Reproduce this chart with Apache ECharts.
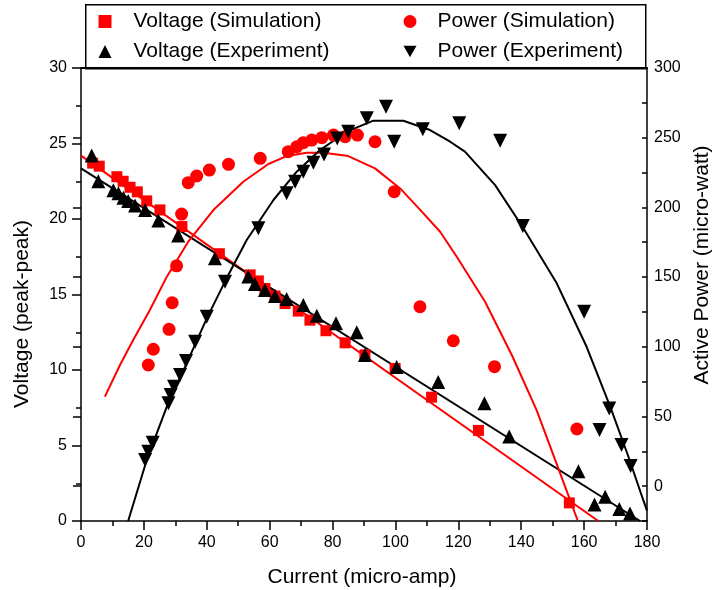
<!DOCTYPE html>
<html>
<head>
<meta charset="utf-8">
<title>Voltage and power vs current</title>
<script src="https://cdn.jsdelivr.net/npm/echarts@6/dist/echarts.min.js"></script>
<style>
  html, body { margin: 0; padding: 0; background: #fff; }
  #chart { width: 714px; height: 590px; }
</style>
</head>
<body>
<div id="chart"></div>
<script>
// ---- measured / simulated points ----
const voltSimI = [3.7, 5.8, 11.4, 13.4, 15.6, 17.9, 20.9, 25.1, 32.1, 44.0, 53.8, 56.4, 58.5, 61.7, 64.9, 69.1, 72.8, 77.9, 84.0, 90.3, 99.9, 111.5, 126.4, 155.3];
const voltSimV = [23.7, 23.5, 22.8, 22.5, 22.1, 21.8, 21.2, 20.6, 19.5, 17.7, 16.3, 15.9, 15.4, 14.9, 14.4, 13.9, 13.3, 12.6, 11.8, 11.0, 10.1, 8.2, 6.0, 1.2];

const voltExpI = [3.4, 5.5, 10.3, 11.9, 13.5, 15.0, 17.2, 20.4, 24.6, 30.9, 42.6, 53.2, 55.3, 58.5, 61.7, 65.4, 70.7, 75.0, 81.1, 87.7, 90.3, 100.4, 113.6, 128.3, 136.2, 158.2, 163.3, 166.7, 171.2, 174.6];
const voltExpV = [24.2, 22.5, 21.9, 21.7, 21.4, 21.2, 20.9, 20.6, 19.9, 18.9, 17.4, 16.2, 15.7, 15.3, 14.9, 14.7, 14.3, 13.6, 13.1, 12.5, 11.0, 10.2, 9.2, 7.8, 5.6, 3.3, 1.1, 1.6, 0.8, 0.5];

const powSimI = [21.4, 23.0, 28.0, 29.0, 30.4, 32.0, 34.1, 36.8, 40.8, 46.9, 57.0, 65.9, 68.6, 70.7, 73.4, 76.6, 80.3, 84.0, 87.9, 93.5, 99.6, 107.8, 118.4, 131.5, 157.7];
const powSimP = [86.9, 98.2, 112.5, 131.6, 158.1, 195.2, 217.7, 222.5, 226.8, 230.9, 235.2, 240.0, 243.5, 246.4, 248.3, 250.0, 251.9, 250.7, 251.9, 247.1, 211.2, 128.7, 104.3, 85.7, 41.0];

const powExpI = [20.4, 21.4, 22.8, 27.8, 28.5, 29.6, 31.5, 33.4, 36.3, 40.0, 45.8, 56.4, 65.4, 68.1, 70.7, 73.9, 77.3, 81.5, 85.0, 90.9, 97.0, 99.6, 108.7, 120.3, 133.3, 140.5, 160.0, 164.9, 168.0, 171.9, 174.8];
const powExpP = [18.8, 24.7, 31.2, 59.4, 65.4, 71.3, 79.7, 89.8, 103.6, 121.6, 146.7, 185.0, 210.1, 218.4, 225.6, 232.0, 238.0, 249.5, 254.3, 263.9, 272.2, 247.1, 256.0, 260.3, 247.8, 186.6, 125.1, 40.3, 55.8, 29.5, 14.5];

// ---- fitted curves ----
const voltSimFitI = [0, 164.5];
const voltSimFitV = [24.2, 0];
const voltExpFitI = [0, 177.8];
const voltExpFitV = [23.35, 0];

const powSimFitI = [7.6, 12.4, 16.6, 21.9, 27.3, 34.1, 42.1, 51.6, 59.6, 65.4, 71.8, 77.1, 85.0, 93.5, 101.5, 108.9, 114.2, 119.5, 128.5, 137.0, 144.9, 151.8, 157.9];
const powSimFitP = [64.2, 86.9, 104.8, 126.4, 150.3, 175.4, 198.1, 218.4, 231.1, 236.8, 239.2, 239.2, 236.8, 228.0, 213.6, 195.7, 182.5, 164.6, 132.3, 94.1, 54.6, 12.8, -24.3];

const powExpFitI = [15.0, 20.9, 27.3, 33.6, 40.0, 46.3, 52.7, 61.2, 68.6, 76.0, 84.5, 93.0, 102.5, 111.0, 117.4, 122.1, 131.7, 140.7, 151.3, 160.8, 168.3, 174.1, 178.8, 180.0];
const powExpFitP = [-25.0, 18.8, 57.0, 88.1, 120.4, 149.1, 176.6, 205.3, 225.6, 241.1, 254.3, 262.2, 262.2, 255.5, 247.1, 240.0, 216.0, 185.0, 145.5, 100.0, 57.0, 21.1, -9.9, -17.6];

// ---- axis ticks ----
const powerTickLabels = [0, 50, 100, 150, 200, 250, 300];

const FONT = '"Liberation Sans", Arial, sans-serif';
const RED = '#ff0000';
const BLACK = '#000000';
// downward-pointing triangle used as the legend icon of the experimental power
const DOWN_TRIANGLE = 'path://M0,0 L10,0 L5,9 Z';

const pair = (xs, ys) => xs.map((x, i) => [x, ys[i]]);

const chart = echarts.init(document.getElementById('chart'), null, { renderer: 'canvas' });

const axisLine = { show: true, onZero: false, lineStyle: { color: BLACK, width: 1.5 } };

function fitLine(name, xs, ys, color, yAxisIndex) {
  return {
    name, type: 'line', yAxisIndex, data: pair(xs, ys),
    symbol: 'none', silent: true, z: 2,
    lineStyle: { color, width: 2 }
  };
}

function points(name, xs, ys, symbol, size, color, yAxisIndex, rotate) {
  return {
    name, type: 'scatter', yAxisIndex, data: pair(xs, ys),
    symbol, symbolSize: size, symbolRotate: rotate || 0, z: 3,
    itemStyle: { color, opacity: 1 }
  };
}

const legendText = { fontSize: 21, fontFamily: FONT, color: BLACK, lineHeight: 17 };

chart.setOption({
  animation: false,
  backgroundColor: '#fff',
  grid: { left: 81, right: 67, top: 68, bottom: 69 },
  legend: [
    {
      data: [
        { name: 'Voltage (Simulation)' },
        { name: 'Voltage (Experiment)' }
      ],
      orient: 'vertical', left: 93.5, top: 6,
      itemWidth: 13, itemHeight: 13, itemGap: 9,
      textStyle: Object.assign({ padding: [0, 0, 0, 17] }, legendText)
    },
    {
      data: [
        { name: 'Power (Simulation)' },
        { name: 'Power (Experiment)', icon: DOWN_TRIANGLE }
      ],
      orient: 'vertical', left: 398.5, top: 6,
      itemWidth: 13, itemHeight: 13, itemGap: 9,
      textStyle: Object.assign({ padding: [0, 0, 0, 16] }, legendText)
    }
  ],
  xAxis: [
    {
      type: 'value', min: 0, max: 180, interval: 20, position: 'bottom',
      axisLine,
      axisTick: { show: true, inside: false, length: 9, lineStyle: { color: BLACK, width: 1.5 } },
      minorTick: { show: true, splitNumber: 2, length: 5, lineStyle: { color: BLACK, width: 1.5 } },
      axisLabel: { color: BLACK, fontSize: 16, fontFamily: FONT, margin: 14 },
      splitLine: { show: false }
    },
    {
      type: 'value', min: 0, max: 180, position: 'top',
      axisLine: { show: true, onZero: false, lineStyle: { color: BLACK, width: 2 } },
      axisTick: { show: false }, axisLabel: { show: false }, splitLine: { show: false }
    }
  ],
  yAxis: [
    {
      type: 'value', min: 0, max: 30, interval: 5, position: 'left',
      axisLine,
      axisTick: { show: true, inside: false, length: 9, lineStyle: { color: BLACK, width: 1.5 } },
      minorTick: { show: true, splitNumber: 2, length: 5, lineStyle: { color: BLACK, width: 1.5 } },
      axisLabel: { color: BLACK, fontSize: 16, fontFamily: FONT, margin: 14 },
      splitLine: { show: false }
    },
    {
      type: 'value', min: -25, max: 300, interval: 25, position: 'right',
      axisLine,
      axisTick: { show: true, inside: true, length: 5, lineStyle: { color: BLACK, width: 1.5 } },
      axisLabel: {
        color: BLACK, fontSize: 16, fontFamily: FONT, margin: 7,
        formatter: v => (v >= 0 && v % 50 === 0) ? String(v) : ''
      },
      splitLine: { show: false }
    },
    {
      type: 'value', min: -25, max: 300, position: 'right',
      axisLine: { show: false },
      axisTick: { show: true, inside: true, length: 8, customValues: powerTickLabels, lineStyle: { color: BLACK, width: 1.5 } },
      axisLabel: { show: false },
      splitLine: { show: false }
    }
  ],
  graphic: [
    {
      type: 'rect', left: 85, top: 4, z: 0, silent: true,
      shape: { width: 560, height: 64 },
      style: { fill: '#fff', stroke: BLACK, lineWidth: 1.5 }
    },
    {
      type: 'text', x: 22, y: 314, rotation: Math.PI / 2, silent: true,
      style: { text: 'Voltage (peak-peak)', fontSize: 21, fontFamily: FONT, fill: BLACK, align: 'center', verticalAlign: 'middle' }
    },
    {
      type: 'text', x: 702, y: 265, rotation: Math.PI / 2, silent: true,
      style: { text: 'Active Power (micro-watt)', fontSize: 21, fontFamily: FONT, fill: BLACK, align: 'center', verticalAlign: 'middle' }
    },
    {
      type: 'text', x: 362, y: 577, silent: true,
      style: { text: 'Current (micro-amp)', fontSize: 21, fontFamily: FONT, fill: BLACK, align: 'center', verticalAlign: 'middle' }
    }
  ],
  series: [
    fitLine('voltSimFit', voltSimFitI, voltSimFitV, RED, 0),
    fitLine('voltExpFit', voltExpFitI, voltExpFitV, BLACK, 0),
    fitLine('powSimFit', powSimFitI, powSimFitP, RED, 1),
    fitLine('powExpFit', powExpFitI, powExpFitP, BLACK, 1),
    points('Voltage (Simulation)', voltSimI, voltSimV, 'rect', 11, RED, 0),
    points('Voltage (Experiment)', voltExpI, voltExpV, 'triangle', 14, BLACK, 0),
    points('Power (Simulation)', powSimI, powSimP, 'circle', 13, RED, 1),
    points('Power (Experiment)', powExpI, powExpP, 'triangle', 14, BLACK, 1, 180)
  ]
});
</script>
</body>
</html>
